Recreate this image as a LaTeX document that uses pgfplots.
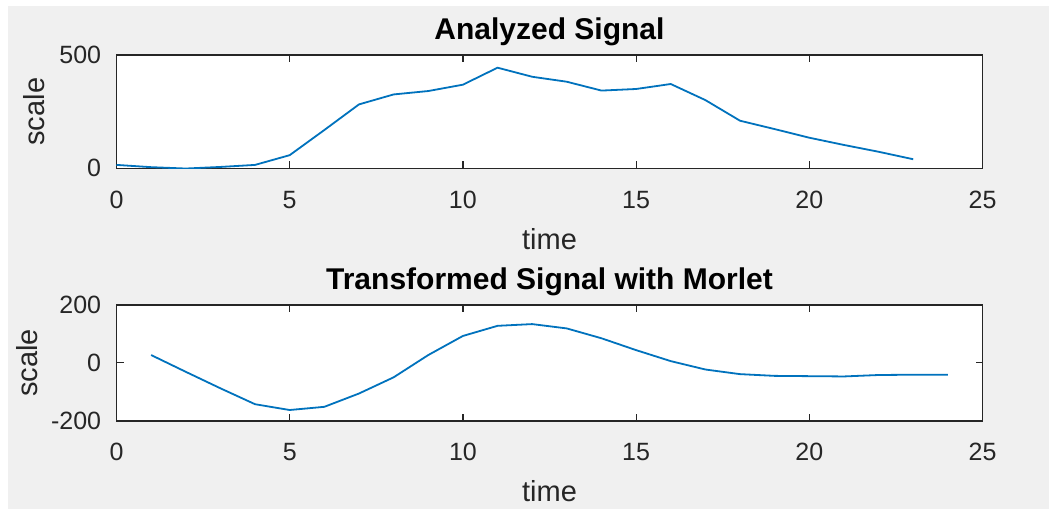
\documentclass[border=0pt]{standalone}
\usepackage{pgfplots}
\pgfplotsset{compat=1.18}
\usepackage{fontspec}
\setmainfont{Liberation Sans}
\definecolor{figbg}{HTML}{F0F0F0}
\definecolor{axcol}{HTML}{262626}
\definecolor{mblue}{HTML}{0072BD}
\pgfplotsset{
  mstyle/.style={
    scale only axis,
    width=433pt,
    axis background/.style={fill=white},
    axis line style={axcol,line width=0.8pt},
    tick style={axcol,line width=0.6pt},
    tick align=inside,
    tick pos=both,
    major tick length=3.5pt,
    xmin=0,xmax=25,
    xtick={0,5,10,15,20,25},
    xticklabels={0,5,10,15,20,25},
    xticklabel style={font=\fontsize{12.5}{15}\selectfont,text=axcol,anchor=base,inner sep=0pt,yshift=-20pt},
    yticklabel style={font=\fontsize{12.5}{15}\selectfont,text=axcol,anchor=east,inner sep=0pt,xshift=-7.5pt},
    xlabel={time},
    ylabel={scale},
    label style={font=\fontsize{14.5}{17}\selectfont,text=axcol},
    title style={font=\bfseries\fontsize{15}{18}\selectfont,text=black,anchor=base,yshift=-6pt},
  }
}
\begin{document}
\begin{tikzpicture}
\fill[white] (0,0) rectangle (524.5pt,255pt);
\fill[figbg] (4pt,0.5pt) rectangle (524.5pt,252pt);
\begin{axis}[mstyle,
  at={(58.25pt,170.85pt)},anchor=south west,
  height=56.65pt,
  ymin=0,ymax=500,
  ytick={0,500},yticklabels={0,500},
  title={Analyzed Signal},
  title style={at={(axis description cs:0.5,1.141)}},
  xlabel style={at={(axis description cs:0.5,-0.715)},anchor=base},
  ylabel style={at={(axis description cs:-0.0826,0.5)},anchor=base},
]
\addplot[mblue,line width=0.9pt] coordinates {
(0,15) (1,5) (2,-1) (3,6) (4,15) (5,58) (6,169) (7,282) (8,326) (9,341) (10,369)
(11,444) (12,404) (13,382) (14,343) (15,350) (16,372) (17,301) (18,210) (19,173)
(20,135) (21,103) (22,73) (23,40)
};
\end{axis}
\begin{axis}[mstyle,
  at={(58.25pt,44.65pt)},anchor=south west,
  height=57.85pt,
  ymin=-200,ymax=200,
  ytick={-200,0,200},yticklabels={-200,0,200},
  title={Transformed Signal with Morlet},
  title style={at={(axis description cs:0.5,1.138)}},
  xlabel style={at={(axis description cs:0.5,-0.700)},anchor=base},
  ylabel style={at={(axis description cs:-0.0918,0.5)},anchor=base},
]
\addplot[mblue,line width=0.9pt] coordinates {
(1,27) (2,-31) (3,-88) (4,-143) (5,-163) (6,-152) (7,-106) (8,-50) (9,27) (10,93)
(11,128) (12,134) (13,119) (14,85) (15,44) (16,6) (17,-23) (18,-39) (19,-45)
(20,-46) (21,-47) (22,-42) (23,-41) (24,-41)
};
\end{axis}
\end{tikzpicture}
\end{document}
